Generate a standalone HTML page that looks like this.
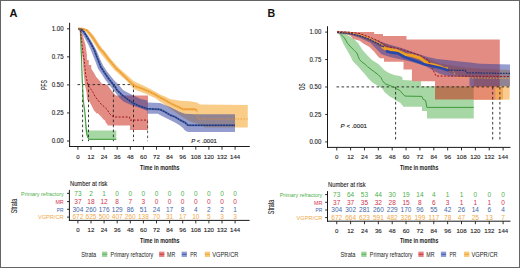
<!DOCTYPE html>
<html><head><meta charset="utf-8"><style>
html,body{margin:0;padding:0;background:#fff;}
svg{display:block;}
text{font-family:"Liberation Sans", sans-serif;}
</style></head><body>
<svg width="520" height="268" viewBox="0 0 520 268" font-family='"Liberation Sans", sans-serif'>
<rect x="0" y="0" width="520" height="268" fill="#fff"/>
<polygon points="79.50,29.00 80.80,40.00 81.60,60.00 82.30,80.00 83.30,100.00 85.00,115.00 86.30,125.00 87.50,130.50 116.30,130.50 116.30,139.90 88.50,139.90 86.50,136.00 85.30,130.00 84.30,115.00 82.60,100.00 81.60,80.00 81.00,60.00 80.20,40.00 79.50,29.00" fill="#4DAF4A" fill-opacity="0.5" />
<polygon points="79.50,29.00 81.00,30.00 83.00,36.00 85.50,45.00 86.90,55.00 86.90,60.00 88.75,60.00 88.75,65.00 91.25,65.00 91.25,68.75 93.75,72.50 96.25,76.90 99.40,80.60 101.90,83.75 105.60,84.20 107.50,85.00 110.00,88.50 113.00,92.50 116.00,95.50 148.00,95.50 148.00,129.90 130.00,129.90 130.00,125.50 107.50,125.50 107.50,124.25 106.00,123.00 105.00,120.50 103.00,119.00 101.25,116.75 99.50,115.00 97.50,113.00 96.90,113.75 93.75,110.00 91.90,106.25 89.40,101.50 87.20,100.00 86.50,92.00 85.00,85.00 83.80,75.00 82.80,60.00 82.30,55.00 81.50,45.00 80.30,35.00 79.50,29.00" fill="#C71A08" fill-opacity="0.5" />
<polygon points="78.50,28.30 83.00,28.40 87.50,29.50 91.00,32.50 94.00,36.00 96.50,40.00 99.00,44.00 101.50,47.50 104.50,51.00 108.50,56.00 112.50,61.00 116.50,65.50 120.00,69.00 127.50,75.50 133.00,80.50 135.00,81.80 145.00,86.30 155.00,91.60 160.00,94.50 165.00,96.50 170.00,99.00 180.00,100.70 190.00,101.20 197.00,102.50 200.00,104.60 247.75,104.90 247.75,127.40 205.00,127.40 198.00,124.00 190.00,121.50 185.00,118.50 180.00,115.50 175.00,112.00 170.00,108.50 165.00,105.00 160.00,101.50 155.00,97.90 145.00,93.40 135.00,89.80 133.00,88.30 127.50,81.50 120.00,75.00 115.00,70.50 111.00,66.00 106.00,60.00 101.50,54.50 98.50,50.50 96.00,46.50 93.50,42.50 91.00,38.50 88.50,35.00 85.50,31.50 82.00,29.80 78.50,29.30" fill="#F39C12" fill-opacity="0.5" />
<polygon points="78.50,28.30 82.00,29.00 85.00,31.50 88.00,35.50 91.00,40.50 93.50,45.00 96.00,49.50 98.00,54.00 100.00,59.00 103.40,66.00 107.00,71.40 110.50,75.80 114.10,80.30 118.60,84.80 123.00,90.00 127.50,92.50 135.00,96.25 140.00,98.75 147.50,100.50 147.50,102.50 160.00,103.10 165.00,105.00 170.00,106.90 175.00,109.40 180.00,111.90 185.00,113.75 195.00,114.30 235.00,114.30 235.00,132.00 188.00,132.00 185.00,130.60 183.00,128.10 180.00,125.60 175.00,122.50 170.00,120.00 165.00,117.50 160.00,115.00 158.00,113.75 147.50,113.75 147.50,111.00 140.00,108.00 130.00,104.50 123.30,101.50 119.70,97.90 116.10,93.40 112.50,89.00 109.00,84.50 105.40,80.00 101.60,74.00 98.00,68.70 95.00,60.50 93.00,55.50 91.00,50.50 88.50,45.00 86.00,40.50 83.50,36.00 81.00,32.00 78.50,29.50" fill="#2A3C9C" fill-opacity="0.5" />
<line x1="77.50" y1="84.60" x2="133.50" y2="84.60" stroke="#222" stroke-width="0.9" stroke-dasharray="2.6,2.4" />
<line x1="82.60" y1="84.60" x2="82.60" y2="141.20" stroke="#222" stroke-width="0.9" stroke-dasharray="2.6,2.4" />
<line x1="88.50" y1="84.60" x2="88.50" y2="141.20" stroke="#222" stroke-width="0.9" stroke-dasharray="2.6,2.4" />
<line x1="113.40" y1="84.60" x2="113.40" y2="141.20" stroke="#222" stroke-width="0.9" stroke-dasharray="2.6,2.4" />
<line x1="133.50" y1="84.60" x2="133.50" y2="141.20" stroke="#222" stroke-width="0.9" stroke-dasharray="2.6,2.4" />
<line x1="147.60" y1="120.60" x2="147.60" y2="141.20" stroke="#444" stroke-width="0.9" stroke-dasharray="2.6,2.4" />
<polyline points="78.10,28.75 80.30,29.00 80.80,40.00 81.60,60.00 82.30,80.00 83.30,100.00 85.00,113.00 86.20,128.00 86.80,134.00 88.00,138.00 89.50,139.30 116.30,139.30" fill="none" stroke="#3E9A3B" stroke-width="1.0" stroke-opacity="1.0" stroke-linejoin="round" />
<polyline points="78.10,28.75 80.50,29.50 81.20,37.50 82.20,46.25 83.20,55.00 84.20,60.00 85.70,75.00 88.00,85.00 91.30,89.80 93.10,92.50 94.80,96.10 97.10,99.20 99.30,101.90 101.60,104.60 104.20,106.80 107.20,109.40 109.00,113.00 111.60,115.60 114.30,117.00 129.50,117.00 130.00,120.10 148.00,120.10" fill="none" stroke="#A3141E" stroke-width="1.0" stroke-opacity="1.0" stroke-dasharray="2,1.5" stroke-linejoin="round" />
<polyline points="78.10,28.75 81.00,29.60 83.60,31.40 86.30,35.80 89.00,40.30 91.60,44.80 93.40,48.40 94.50,50.40 96.70,56.60 98.90,62.00 100.70,66.90 104.30,72.30 107.80,77.60 111.40,82.10 115.00,86.60 117.00,90.00 122.00,95.00 127.00,98.75 132.00,102.50 137.00,105.00 140.00,106.25 147.50,108.75 160.00,109.40 165.00,111.90 170.00,115.00 175.00,116.90 180.00,120.00 185.00,122.50 188.00,125.30 235.00,125.30" fill="none" stroke="#3A58A8" stroke-width="2.0" stroke-opacity="0.75" stroke-linejoin="round" />
<polyline points="78.10,28.75 81.00,29.60 83.60,31.40 86.30,35.80 89.00,40.30 91.60,44.80 93.40,48.40 94.50,50.40 96.70,56.60 98.90,62.00 100.70,66.90 104.30,72.30 107.80,77.60 111.40,82.10 115.00,86.60 117.00,90.00 122.00,95.00 127.00,98.75 132.00,102.50 137.00,105.00 140.00,106.25 147.50,108.75 160.00,109.40 165.00,111.90 170.00,115.00 175.00,116.90 180.00,120.00 185.00,122.50 188.00,125.30 235.00,125.30" fill="none" stroke="#1E3370" stroke-width="1.3" stroke-opacity="1.0" stroke-dasharray="1.8,1.0" stroke-linejoin="round" />
<polyline points="78.10,28.75 82.70,28.90 87.20,30.50 90.70,35.00 93.40,38.50 95.70,42.10 97.90,45.50 100.10,49.00 103.40,52.20 107.90,58.40 112.40,63.80 116.00,68.30 119.50,71.40 124.00,75.80 128.40,80.30 132.90,84.60 136.00,86.50 140.00,87.80 145.00,89.80 150.00,92.00 155.00,94.50 160.00,97.50 165.00,100.00 170.00,103.00 175.00,105.50 180.00,107.70 183.00,109.20 195.00,109.20 197.00,110.60" fill="none" stroke="#F2AA48" stroke-width="2.4" stroke-opacity="0.85" stroke-linejoin="round" />
<polyline points="78.10,28.75 82.70,28.90 87.20,30.50 90.70,35.00 93.40,38.50 95.70,42.10 97.90,45.50 100.10,49.00 103.40,52.20 107.90,58.40 112.40,63.80 116.00,68.30 119.50,71.40 124.00,75.80 128.40,80.30 132.90,84.60 136.00,86.50 140.00,87.80 145.00,89.80 150.00,92.00 155.00,94.50 160.00,97.50 165.00,100.00 170.00,103.00 175.00,105.50 180.00,107.70 183.00,109.20 195.00,109.20 197.00,110.60" fill="none" stroke="#E8921E" stroke-width="1.0" stroke-opacity="1.0" stroke-dasharray="1.5,1.2" stroke-linejoin="round" />
<polyline points="197.00,110.60 198.00,119.00 247.75,119.00" fill="none" stroke="#E8902A" stroke-width="0.9" stroke-opacity="0.85" stroke-dasharray="1.6,1.4" stroke-linejoin="round" />
<polyline points="78.20,28.90 81.00,29.10 83.20,29.90" fill="none" stroke="#4A3850" stroke-width="1.4" stroke-opacity="0.85" stroke-linejoin="round" />
<line x1="69.60" y1="22.75" x2="69.60" y2="147.00" stroke="#1a1a1a" stroke-width="1.0" />
<line x1="69.10" y1="146.50" x2="249.80" y2="146.50" stroke="#1a1a1a" stroke-width="1.0" />
<line x1="67.00" y1="28.80" x2="69.60" y2="28.80" stroke="#1a1a1a" stroke-width="0.9" />
<text x="63.60" y="31.06" font-size="6.3" fill="#262626" text-anchor="end" textLength="11.9" lengthAdjust="spacingAndGlyphs" stroke="#262626" stroke-width="0.12" >1.00</text>
<line x1="67.00" y1="56.85" x2="69.60" y2="56.85" stroke="#1a1a1a" stroke-width="0.9" />
<text x="63.60" y="59.11" font-size="6.3" fill="#262626" text-anchor="end" textLength="11.9" lengthAdjust="spacingAndGlyphs" stroke="#262626" stroke-width="0.12" >0.75</text>
<line x1="67.00" y1="84.90" x2="69.60" y2="84.90" stroke="#1a1a1a" stroke-width="0.9" />
<text x="63.60" y="87.16" font-size="6.3" fill="#262626" text-anchor="end" textLength="11.9" lengthAdjust="spacingAndGlyphs" stroke="#262626" stroke-width="0.12" >0.50</text>
<line x1="67.00" y1="112.95" x2="69.60" y2="112.95" stroke="#1a1a1a" stroke-width="0.9" />
<text x="63.60" y="115.21" font-size="6.3" fill="#262626" text-anchor="end" textLength="11.9" lengthAdjust="spacingAndGlyphs" stroke="#262626" stroke-width="0.12" >0.25</text>
<line x1="67.00" y1="141.00" x2="69.60" y2="141.00" stroke="#1a1a1a" stroke-width="0.9" />
<text x="63.60" y="143.26" font-size="6.3" fill="#262626" text-anchor="end" textLength="11.9" lengthAdjust="spacingAndGlyphs" stroke="#262626" stroke-width="0.12" >0.00</text>
<line x1="77.90" y1="146.50" x2="77.90" y2="149.70" stroke="#1a1a1a" stroke-width="0.9" />
<text x="77.90" y="158.63" font-size="6.1" fill="#262626" text-anchor="middle" stroke="#262626" stroke-width="0.12" >0</text>
<line x1="91.00" y1="146.50" x2="91.00" y2="149.70" stroke="#1a1a1a" stroke-width="0.9" />
<text x="91.00" y="158.63" font-size="6.1" fill="#262626" text-anchor="middle" stroke="#262626" stroke-width="0.12" >12</text>
<line x1="104.10" y1="146.50" x2="104.10" y2="149.70" stroke="#1a1a1a" stroke-width="0.9" />
<text x="104.10" y="158.63" font-size="6.1" fill="#262626" text-anchor="middle" stroke="#262626" stroke-width="0.12" >24</text>
<line x1="117.20" y1="146.50" x2="117.20" y2="149.70" stroke="#1a1a1a" stroke-width="0.9" />
<text x="117.20" y="158.63" font-size="6.1" fill="#262626" text-anchor="middle" stroke="#262626" stroke-width="0.12" >36</text>
<line x1="130.30" y1="146.50" x2="130.30" y2="149.70" stroke="#1a1a1a" stroke-width="0.9" />
<text x="130.30" y="158.63" font-size="6.1" fill="#262626" text-anchor="middle" stroke="#262626" stroke-width="0.12" >48</text>
<line x1="143.40" y1="146.50" x2="143.40" y2="149.70" stroke="#1a1a1a" stroke-width="0.9" />
<text x="143.40" y="158.63" font-size="6.1" fill="#262626" text-anchor="middle" stroke="#262626" stroke-width="0.12" >60</text>
<line x1="156.50" y1="146.50" x2="156.50" y2="149.70" stroke="#1a1a1a" stroke-width="0.9" />
<text x="156.50" y="158.63" font-size="6.1" fill="#262626" text-anchor="middle" stroke="#262626" stroke-width="0.12" >72</text>
<line x1="169.60" y1="146.50" x2="169.60" y2="149.70" stroke="#1a1a1a" stroke-width="0.9" />
<text x="169.60" y="158.63" font-size="6.1" fill="#262626" text-anchor="middle" stroke="#262626" stroke-width="0.12" >84</text>
<line x1="182.70" y1="146.50" x2="182.70" y2="149.70" stroke="#1a1a1a" stroke-width="0.9" />
<text x="182.70" y="158.63" font-size="6.1" fill="#262626" text-anchor="middle" stroke="#262626" stroke-width="0.12" >96</text>
<line x1="195.80" y1="146.50" x2="195.80" y2="149.70" stroke="#1a1a1a" stroke-width="0.9" />
<text x="195.80" y="158.63" font-size="6.1" fill="#262626" text-anchor="middle" stroke="#262626" stroke-width="0.12" >108</text>
<line x1="208.90" y1="146.50" x2="208.90" y2="149.70" stroke="#1a1a1a" stroke-width="0.9" />
<text x="208.90" y="158.63" font-size="6.1" fill="#262626" text-anchor="middle" stroke="#262626" stroke-width="0.12" >120</text>
<line x1="222.00" y1="146.50" x2="222.00" y2="149.70" stroke="#1a1a1a" stroke-width="0.9" />
<text x="222.00" y="158.63" font-size="6.1" fill="#262626" text-anchor="middle" stroke="#262626" stroke-width="0.12" >132</text>
<line x1="235.10" y1="146.50" x2="235.10" y2="149.70" stroke="#1a1a1a" stroke-width="0.9" />
<text x="235.10" y="158.63" font-size="6.1" fill="#262626" text-anchor="middle" stroke="#262626" stroke-width="0.12" >144</text>
<text font-size="9.8" fill="#222" text-anchor="middle" font-weight="normal" stroke="#222" stroke-width="0.1" textLength="10.0" lengthAdjust="spacingAndGlyphs" transform="translate(47.11,85.10) rotate(-90)" x="0" y="0">PFS</text>
<text x="159.80" y="169.72" font-size="7.6" fill="#1a1a1a" text-anchor="middle" font-weight="bold" textLength="39.5" lengthAdjust="spacingAndGlyphs" >Time in months</text>
<text x="191.25" y="143.00" font-size="5.6" fill="#1a1a1a" stroke="#1a1a1a" stroke-width="0.12" textLength="25.5" lengthAdjust="spacingAndGlyphs"><tspan font-style="italic">P</tspan> &lt; .0001</text>
<text x="9.60" y="16.94" font-size="11.0" fill="#111" text-anchor="start" font-weight="bold" >A</text>
<polygon points="337.50,31.80 340.00,32.60 345.00,33.80 350.00,36.50 355.00,40.00 358.00,43.00 362.50,50.00 367.00,55.00 372.00,60.00 378.30,64.00 381.80,67.60 384.50,70.30 389.00,73.00 395.00,75.20 400.00,76.00 402.50,77.50 402.50,80.00 411.90,80.50 411.90,81.20 421.00,81.20 421.00,86.20 473.75,86.50 473.75,118.60 427.00,118.60 427.00,111.10 422.00,111.10 422.00,106.75 403.50,106.75 400.00,102.50 396.00,100.50 393.75,98.75 389.40,96.25 384.40,91.90 382.50,88.75 372.50,82.50 367.50,77.50 364.80,73.90 361.30,70.30 357.70,66.00 355.00,63.50 352.50,60.40 349.80,55.00 347.20,50.50 343.60,44.30 340.50,37.00 339.00,34.00 337.50,32.50" fill="#4DAF4A" fill-opacity="0.5" />
<polygon points="337.50,31.50 360.00,33.50 380.00,41.50 400.00,49.00 420.00,55.50 440.00,63.50 455.00,66.00 470.00,68.00 510.00,70.00 509.40,99.50 473.75,99.50 473.75,77.00 470.00,77.00 460.00,75.50 450.00,73.00 440.00,69.00 420.00,60.50 400.00,54.00 380.00,46.50 360.00,36.00 337.50,32.50" fill="#F39C12" fill-opacity="0.5" />
<polygon points="337.50,32.00 374.20,32.00 374.20,34.10 383.00,34.10 383.00,36.10 406.50,36.10 406.50,39.50 499.80,39.50 499.80,99.50 435.00,99.50 435.00,81.20 411.90,81.20 411.90,69.60 403.50,69.60 403.50,61.70 384.00,61.70 384.00,58.30 380.00,58.30 377.60,55.90 374.00,51.40 369.50,46.90 363.30,43.40 359.70,40.70 353.40,39.00 350.00,35.50 345.00,33.50 337.50,32.50" fill="#C71A08" fill-opacity="0.5" />
<polygon points="337.50,31.50 350.00,32.00 360.00,33.50 370.00,37.90 380.00,41.50 389.00,44.60 400.00,47.50 408.50,50.40 420.00,54.50 427.70,57.10 437.00,59.00 447.00,60.00 460.00,61.50 470.00,62.50 480.00,63.80 510.00,64.40 510.00,86.30 469.50,86.30 469.50,77.20 460.00,76.80 450.00,76.30 440.00,74.00 431.50,69.60 425.00,66.00 418.00,63.80 410.00,61.50 398.80,59.00 390.00,57.00 381.50,54.20 370.00,42.50 360.00,38.00 350.00,34.50 337.50,32.50" fill="#2A3C9C" fill-opacity="0.5" />
<rect x="473.75" y="86.9" width="21.5" height="12.6" fill="#E68C70"/>
<rect x="495.2" y="86.9" width="7.8" height="12.6" fill="#F4A85A"/>
<rect x="503" y="86.9" width="6.4" height="12.6" fill="#F9CB8E"/>
<line x1="336.50" y1="86.90" x2="510.00" y2="86.90" stroke="#222" stroke-width="0.9" stroke-dasharray="2.6,2.4" />
<line x1="395.60" y1="86.90" x2="395.60" y2="141.50" stroke="#222" stroke-width="0.9" stroke-dasharray="2.6,2.4" />
<line x1="492.70" y1="86.90" x2="492.70" y2="141.50" stroke="#222" stroke-width="0.9" stroke-dasharray="2.6,2.4" />
<line x1="499.90" y1="86.90" x2="499.90" y2="141.50" stroke="#222" stroke-width="0.9" stroke-dasharray="2.6,2.4" />
<polyline points="337.20,32.00 339.00,32.30 341.00,34.50 344.50,38.00 347.60,43.40 350.70,46.90 354.30,50.50 357.00,53.20 358.30,56.80 359.50,59.60 362.20,62.30 364.80,64.00 367.50,66.70 371.10,69.40 374.70,72.10 378.30,74.80 381.00,77.50 382.50,80.60 385.00,83.75 390.00,85.60 395.00,87.50 396.25,88.75 400.00,90.50 403.00,94.25 405.00,96.10 421.90,96.40 423.10,99.25 425.60,100.50 426.90,107.40 473.75,107.40" fill="none" stroke="#3E9A3B" stroke-width="1.0" stroke-opacity="1.0" stroke-linejoin="round" />
<polyline points="337.20,32.20 350.00,33.20 360.00,35.60 370.00,39.60 378.00,43.60 385.00,47.60" fill="none" stroke="#7A5070" stroke-width="3.0" stroke-opacity="0.55" stroke-linejoin="round" />
<polyline points="337.20,32.00 350.00,32.60 360.00,34.60 370.00,38.60 378.00,42.50 383.00,45.50" fill="none" stroke="#E8A040" stroke-width="1.2" stroke-opacity="1.0" stroke-linejoin="round" />
<polyline points="382.00,46.50 385.00,48.50 390.00,49.40 396.00,50.30 400.00,52.20 406.00,54.80 412.00,55.50 420.00,58.00 425.00,61.60 430.00,64.30 435.00,65.20 440.00,66.60 444.00,68.60 448.00,68.80" fill="none" stroke="#F0A020" stroke-width="3.0" stroke-opacity="1.0" stroke-linejoin="round" />
<polyline points="453.00,70.00 456.00,77.50 510.00,78.50" fill="none" stroke="#F0A030" stroke-width="1.2" stroke-opacity="0.8" stroke-dasharray="1.5,1.5" stroke-linejoin="round" />
<polyline points="337.20,32.30 350.00,33.40 360.00,35.80 370.00,39.60 378.00,43.60 384.00,47.00" fill="none" stroke="#1E3370" stroke-width="1.2" stroke-opacity="1.0" stroke-dasharray="1.8,1.0" stroke-linejoin="round" />
<polyline points="386.00,51.00 390.00,52.30 398.00,53.40 404.50,57.00 412.00,59.80 420.00,62.50 425.00,64.60 432.00,66.00 440.00,67.80 448.00,70.20" fill="none" stroke="#2748A8" stroke-width="2.6" stroke-opacity="1.0" stroke-linejoin="round" />
<polyline points="448.00,70.20 465.00,70.40 467.00,72.80 510.00,73.50" fill="none" stroke="#1E3370" stroke-width="1.3" stroke-opacity="1.0" stroke-dasharray="1.8,1.0" stroke-linejoin="round" />
<polyline points="337.20,31.80 350.00,32.30 360.00,33.60 370.00,37.30 380.00,41.50 385.00,45.50 390.00,47.20 400.00,48.70 410.00,52.00 420.00,55.30 428.00,60.00 432.00,68.00 436.00,76.00 510.00,76.50" fill="none" stroke="#A3141E" stroke-width="1.0" stroke-opacity="1.0" stroke-dasharray="2,1.5" stroke-linejoin="round" />
<line x1="327.50" y1="26.25" x2="327.50" y2="147.90" stroke="#1a1a1a" stroke-width="1.0" />
<line x1="327.00" y1="147.40" x2="510.50" y2="147.40" stroke="#1a1a1a" stroke-width="1.0" />
<line x1="325.20" y1="32.10" x2="327.50" y2="32.10" stroke="#1a1a1a" stroke-width="0.9" />
<text x="321.30" y="34.36" font-size="6.3" fill="#262626" text-anchor="end" textLength="11.8" lengthAdjust="spacingAndGlyphs" stroke="#262626" stroke-width="0.12" >1.00</text>
<line x1="325.20" y1="59.55" x2="327.50" y2="59.55" stroke="#1a1a1a" stroke-width="0.9" />
<text x="321.30" y="61.81" font-size="6.3" fill="#262626" text-anchor="end" textLength="11.8" lengthAdjust="spacingAndGlyphs" stroke="#262626" stroke-width="0.12" >0.75</text>
<line x1="325.20" y1="87.00" x2="327.50" y2="87.00" stroke="#1a1a1a" stroke-width="0.9" />
<text x="321.30" y="89.26" font-size="6.3" fill="#262626" text-anchor="end" textLength="11.8" lengthAdjust="spacingAndGlyphs" stroke="#262626" stroke-width="0.12" >0.50</text>
<line x1="325.20" y1="114.45" x2="327.50" y2="114.45" stroke="#1a1a1a" stroke-width="0.9" />
<text x="321.30" y="116.71" font-size="6.3" fill="#262626" text-anchor="end" textLength="11.8" lengthAdjust="spacingAndGlyphs" stroke="#262626" stroke-width="0.12" >0.25</text>
<line x1="325.20" y1="141.90" x2="327.50" y2="141.90" stroke="#1a1a1a" stroke-width="0.9" />
<text x="321.30" y="144.16" font-size="6.3" fill="#262626" text-anchor="end" textLength="11.8" lengthAdjust="spacingAndGlyphs" stroke="#262626" stroke-width="0.12" >0.00</text>
<line x1="336.75" y1="147.40" x2="336.75" y2="150.40" stroke="#1a1a1a" stroke-width="0.9" />
<text x="336.75" y="158.78" font-size="6.1" fill="#262626" text-anchor="middle" stroke="#262626" stroke-width="0.12" >0</text>
<line x1="350.61" y1="147.40" x2="350.61" y2="150.40" stroke="#1a1a1a" stroke-width="0.9" />
<text x="350.61" y="158.78" font-size="6.1" fill="#262626" text-anchor="middle" stroke="#262626" stroke-width="0.12" >12</text>
<line x1="364.47" y1="147.40" x2="364.47" y2="150.40" stroke="#1a1a1a" stroke-width="0.9" />
<text x="364.47" y="158.78" font-size="6.1" fill="#262626" text-anchor="middle" stroke="#262626" stroke-width="0.12" >24</text>
<line x1="378.34" y1="147.40" x2="378.34" y2="150.40" stroke="#1a1a1a" stroke-width="0.9" />
<text x="378.34" y="158.78" font-size="6.1" fill="#262626" text-anchor="middle" stroke="#262626" stroke-width="0.12" >36</text>
<line x1="392.20" y1="147.40" x2="392.20" y2="150.40" stroke="#1a1a1a" stroke-width="0.9" />
<text x="392.20" y="158.78" font-size="6.1" fill="#262626" text-anchor="middle" stroke="#262626" stroke-width="0.12" >48</text>
<line x1="406.06" y1="147.40" x2="406.06" y2="150.40" stroke="#1a1a1a" stroke-width="0.9" />
<text x="406.06" y="158.78" font-size="6.1" fill="#262626" text-anchor="middle" stroke="#262626" stroke-width="0.12" >60</text>
<line x1="419.92" y1="147.40" x2="419.92" y2="150.40" stroke="#1a1a1a" stroke-width="0.9" />
<text x="419.92" y="158.78" font-size="6.1" fill="#262626" text-anchor="middle" stroke="#262626" stroke-width="0.12" >72</text>
<line x1="433.79" y1="147.40" x2="433.79" y2="150.40" stroke="#1a1a1a" stroke-width="0.9" />
<text x="433.79" y="158.78" font-size="6.1" fill="#262626" text-anchor="middle" stroke="#262626" stroke-width="0.12" >84</text>
<line x1="447.65" y1="147.40" x2="447.65" y2="150.40" stroke="#1a1a1a" stroke-width="0.9" />
<text x="447.65" y="158.78" font-size="6.1" fill="#262626" text-anchor="middle" stroke="#262626" stroke-width="0.12" >96</text>
<line x1="461.51" y1="147.40" x2="461.51" y2="150.40" stroke="#1a1a1a" stroke-width="0.9" />
<text x="461.51" y="158.78" font-size="6.1" fill="#262626" text-anchor="middle" stroke="#262626" stroke-width="0.12" >108</text>
<line x1="475.37" y1="147.40" x2="475.37" y2="150.40" stroke="#1a1a1a" stroke-width="0.9" />
<text x="475.37" y="158.78" font-size="6.1" fill="#262626" text-anchor="middle" stroke="#262626" stroke-width="0.12" >120</text>
<line x1="489.24" y1="147.40" x2="489.24" y2="150.40" stroke="#1a1a1a" stroke-width="0.9" />
<text x="489.24" y="158.78" font-size="6.1" fill="#262626" text-anchor="middle" stroke="#262626" stroke-width="0.12" >132</text>
<line x1="503.10" y1="147.40" x2="503.10" y2="150.40" stroke="#1a1a1a" stroke-width="0.9" />
<text x="503.10" y="158.78" font-size="6.1" fill="#262626" text-anchor="middle" stroke="#262626" stroke-width="0.12" >144</text>
<text font-size="9.2" fill="#222" text-anchor="middle" font-weight="normal" stroke="#222" stroke-width="0.1" textLength="6.7" lengthAdjust="spacingAndGlyphs" transform="translate(304.69,86.80) rotate(-90)" x="0" y="0">OS</text>
<text x="419.20" y="170.22" font-size="7.6" fill="#1a1a1a" text-anchor="middle" font-weight="bold" textLength="38.5" lengthAdjust="spacingAndGlyphs" >Time in months</text>
<text x="340.6" y="128.00" font-size="5.6" fill="#1a1a1a" stroke="#1a1a1a" stroke-width="0.12" textLength="26.4" lengthAdjust="spacingAndGlyphs"><tspan font-style="italic">P</tspan> &lt; .0001</text>
<text x="267.60" y="16.89" font-size="10.6" fill="#111" text-anchor="start" font-weight="bold" >B</text>
<text x="70.00" y="185.66" font-size="6.6" fill="#1a1a1a" text-anchor="start" textLength="37.5" lengthAdjust="spacingAndGlyphs" stroke="#1a1a1a" stroke-width="0.1" >Number at risk</text>
<text x="63.60" y="195.57" font-size="6.2" fill="#4DAF4A" text-anchor="end" textLength="42.5" lengthAdjust="spacingAndGlyphs" >Primary refractory</text>
<line x1="67.00" y1="193.35" x2="69.40" y2="193.35" stroke="#1a1a1a" stroke-width="0.9" />
<text x="77.90" y="195.64" font-size="6.4" fill="#4DAF4A" text-anchor="middle" textLength="7.24" lengthAdjust="spacingAndGlyphs" >73</text>
<text x="91.00" y="195.64" font-size="6.4" fill="#4DAF4A" text-anchor="middle" textLength="3.62" lengthAdjust="spacingAndGlyphs" >2</text>
<text x="104.10" y="195.64" font-size="6.4" fill="#4DAF4A" text-anchor="middle" textLength="3.62" lengthAdjust="spacingAndGlyphs" >1</text>
<text x="117.20" y="195.64" font-size="6.4" fill="#4DAF4A" text-anchor="middle" textLength="3.62" lengthAdjust="spacingAndGlyphs" >0</text>
<text x="130.30" y="195.64" font-size="6.4" fill="#4DAF4A" text-anchor="middle" textLength="3.62" lengthAdjust="spacingAndGlyphs" >0</text>
<text x="143.40" y="195.64" font-size="6.4" fill="#4DAF4A" text-anchor="middle" textLength="3.62" lengthAdjust="spacingAndGlyphs" >0</text>
<text x="156.50" y="195.64" font-size="6.4" fill="#4DAF4A" text-anchor="middle" textLength="3.62" lengthAdjust="spacingAndGlyphs" >0</text>
<text x="169.60" y="195.64" font-size="6.4" fill="#4DAF4A" text-anchor="middle" textLength="3.62" lengthAdjust="spacingAndGlyphs" >0</text>
<text x="182.70" y="195.64" font-size="6.4" fill="#4DAF4A" text-anchor="middle" textLength="3.62" lengthAdjust="spacingAndGlyphs" >0</text>
<text x="195.80" y="195.64" font-size="6.4" fill="#4DAF4A" text-anchor="middle" textLength="3.62" lengthAdjust="spacingAndGlyphs" >0</text>
<text x="208.90" y="195.64" font-size="6.4" fill="#4DAF4A" text-anchor="middle" textLength="3.62" lengthAdjust="spacingAndGlyphs" >0</text>
<text x="222.00" y="195.64" font-size="6.4" fill="#4DAF4A" text-anchor="middle" textLength="3.62" lengthAdjust="spacingAndGlyphs" >0</text>
<text x="235.10" y="195.64" font-size="6.4" fill="#4DAF4A" text-anchor="middle" textLength="3.62" lengthAdjust="spacingAndGlyphs" >0</text>
<text x="63.60" y="203.82" font-size="6.2" fill="#D2344E" text-anchor="end" textLength="8.2" lengthAdjust="spacingAndGlyphs" >MR</text>
<line x1="67.00" y1="201.60" x2="69.40" y2="201.60" stroke="#1a1a1a" stroke-width="0.9" />
<text x="77.90" y="203.89" font-size="6.4" fill="#D2344E" text-anchor="middle" textLength="7.24" lengthAdjust="spacingAndGlyphs" >37</text>
<text x="91.00" y="203.89" font-size="6.4" fill="#D2344E" text-anchor="middle" textLength="7.24" lengthAdjust="spacingAndGlyphs" >18</text>
<text x="104.10" y="203.89" font-size="6.4" fill="#D2344E" text-anchor="middle" textLength="7.24" lengthAdjust="spacingAndGlyphs" >12</text>
<text x="117.20" y="203.89" font-size="6.4" fill="#D2344E" text-anchor="middle" textLength="3.62" lengthAdjust="spacingAndGlyphs" >8</text>
<text x="130.30" y="203.89" font-size="6.4" fill="#D2344E" text-anchor="middle" textLength="3.62" lengthAdjust="spacingAndGlyphs" >7</text>
<text x="143.40" y="203.89" font-size="6.4" fill="#D2344E" text-anchor="middle" textLength="3.62" lengthAdjust="spacingAndGlyphs" >3</text>
<text x="156.50" y="203.89" font-size="6.4" fill="#D2344E" text-anchor="middle" textLength="3.62" lengthAdjust="spacingAndGlyphs" >0</text>
<text x="169.60" y="203.89" font-size="6.4" fill="#D2344E" text-anchor="middle" textLength="3.62" lengthAdjust="spacingAndGlyphs" >0</text>
<text x="182.70" y="203.89" font-size="6.4" fill="#D2344E" text-anchor="middle" textLength="3.62" lengthAdjust="spacingAndGlyphs" >0</text>
<text x="195.80" y="203.89" font-size="6.4" fill="#D2344E" text-anchor="middle" textLength="3.62" lengthAdjust="spacingAndGlyphs" >0</text>
<text x="208.90" y="203.89" font-size="6.4" fill="#D2344E" text-anchor="middle" textLength="3.62" lengthAdjust="spacingAndGlyphs" >0</text>
<text x="222.00" y="203.89" font-size="6.4" fill="#D2344E" text-anchor="middle" textLength="3.62" lengthAdjust="spacingAndGlyphs" >0</text>
<text x="235.10" y="203.89" font-size="6.4" fill="#D2344E" text-anchor="middle" textLength="3.62" lengthAdjust="spacingAndGlyphs" >0</text>
<text x="63.60" y="211.52" font-size="6.2" fill="#3F66A8" text-anchor="end" textLength="6.8" lengthAdjust="spacingAndGlyphs" >PR</text>
<line x1="67.00" y1="209.30" x2="69.40" y2="209.30" stroke="#1a1a1a" stroke-width="0.9" />
<text x="77.90" y="211.59" font-size="6.4" fill="#3F66A8" text-anchor="middle" textLength="10.86" lengthAdjust="spacingAndGlyphs" >304</text>
<text x="91.00" y="211.59" font-size="6.4" fill="#3F66A8" text-anchor="middle" textLength="10.86" lengthAdjust="spacingAndGlyphs" >260</text>
<text x="104.10" y="211.59" font-size="6.4" fill="#3F66A8" text-anchor="middle" textLength="10.86" lengthAdjust="spacingAndGlyphs" >176</text>
<text x="117.20" y="211.59" font-size="6.4" fill="#3F66A8" text-anchor="middle" textLength="10.86" lengthAdjust="spacingAndGlyphs" >129</text>
<text x="130.30" y="211.59" font-size="6.4" fill="#3F66A8" text-anchor="middle" textLength="7.24" lengthAdjust="spacingAndGlyphs" >86</text>
<text x="143.40" y="211.59" font-size="6.4" fill="#3F66A8" text-anchor="middle" textLength="7.24" lengthAdjust="spacingAndGlyphs" >51</text>
<text x="156.50" y="211.59" font-size="6.4" fill="#3F66A8" text-anchor="middle" textLength="7.24" lengthAdjust="spacingAndGlyphs" >24</text>
<text x="169.60" y="211.59" font-size="6.4" fill="#3F66A8" text-anchor="middle" textLength="7.24" lengthAdjust="spacingAndGlyphs" >17</text>
<text x="182.70" y="211.59" font-size="6.4" fill="#3F66A8" text-anchor="middle" textLength="3.62" lengthAdjust="spacingAndGlyphs" >8</text>
<text x="195.80" y="211.59" font-size="6.4" fill="#3F66A8" text-anchor="middle" textLength="3.62" lengthAdjust="spacingAndGlyphs" >4</text>
<text x="208.90" y="211.59" font-size="6.4" fill="#3F66A8" text-anchor="middle" textLength="3.62" lengthAdjust="spacingAndGlyphs" >2</text>
<text x="222.00" y="211.59" font-size="6.4" fill="#3F66A8" text-anchor="middle" textLength="3.62" lengthAdjust="spacingAndGlyphs" >2</text>
<text x="235.10" y="211.59" font-size="6.4" fill="#3F66A8" text-anchor="middle" textLength="3.62" lengthAdjust="spacingAndGlyphs" >1</text>
<text x="63.60" y="219.32" font-size="6.2" fill="#F0A848" text-anchor="end" textLength="25.7" lengthAdjust="spacingAndGlyphs" >VGPR/CR</text>
<line x1="67.00" y1="217.10" x2="69.40" y2="217.10" stroke="#1a1a1a" stroke-width="0.9" />
<text x="77.90" y="219.39" font-size="6.4" fill="#F0A848" text-anchor="middle" textLength="10.86" lengthAdjust="spacingAndGlyphs" >672</text>
<text x="91.00" y="219.39" font-size="6.4" fill="#F0A848" text-anchor="middle" textLength="10.86" lengthAdjust="spacingAndGlyphs" >625</text>
<text x="104.10" y="219.39" font-size="6.4" fill="#F0A848" text-anchor="middle" textLength="10.86" lengthAdjust="spacingAndGlyphs" >500</text>
<text x="117.20" y="219.39" font-size="6.4" fill="#F0A848" text-anchor="middle" textLength="10.86" lengthAdjust="spacingAndGlyphs" >407</text>
<text x="130.30" y="219.39" font-size="6.4" fill="#F0A848" text-anchor="middle" textLength="10.86" lengthAdjust="spacingAndGlyphs" >260</text>
<text x="143.40" y="219.39" font-size="6.4" fill="#F0A848" text-anchor="middle" textLength="10.86" lengthAdjust="spacingAndGlyphs" >138</text>
<text x="156.50" y="219.39" font-size="6.4" fill="#F0A848" text-anchor="middle" textLength="7.24" lengthAdjust="spacingAndGlyphs" >70</text>
<text x="169.60" y="219.39" font-size="6.4" fill="#F0A848" text-anchor="middle" textLength="7.24" lengthAdjust="spacingAndGlyphs" >31</text>
<text x="182.70" y="219.39" font-size="6.4" fill="#F0A848" text-anchor="middle" textLength="7.24" lengthAdjust="spacingAndGlyphs" >17</text>
<text x="195.80" y="219.39" font-size="6.4" fill="#F0A848" text-anchor="middle" textLength="7.24" lengthAdjust="spacingAndGlyphs" >10</text>
<text x="208.90" y="219.39" font-size="6.4" fill="#F0A848" text-anchor="middle" textLength="3.62" lengthAdjust="spacingAndGlyphs" >5</text>
<text x="222.00" y="219.39" font-size="6.4" fill="#F0A848" text-anchor="middle" textLength="3.62" lengthAdjust="spacingAndGlyphs" >3</text>
<text x="235.10" y="219.39" font-size="6.4" fill="#F0A848" text-anchor="middle" textLength="3.62" lengthAdjust="spacingAndGlyphs" >3</text>
<line x1="69.40" y1="189.85" x2="69.40" y2="220.90" stroke="#1a1a1a" stroke-width="1.0" />
<line x1="68.90" y1="220.40" x2="249.60" y2="220.40" stroke="#1a1a1a" stroke-width="1.0" />
<line x1="77.90" y1="220.40" x2="77.90" y2="223.40" stroke="#1a1a1a" stroke-width="0.9" />
<text x="77.90" y="232.48" font-size="6.1" fill="#262626" text-anchor="middle" stroke="#262626" stroke-width="0.12" >0</text>
<line x1="91.00" y1="220.40" x2="91.00" y2="223.40" stroke="#1a1a1a" stroke-width="0.9" />
<text x="91.00" y="232.48" font-size="6.1" fill="#262626" text-anchor="middle" stroke="#262626" stroke-width="0.12" >12</text>
<line x1="104.10" y1="220.40" x2="104.10" y2="223.40" stroke="#1a1a1a" stroke-width="0.9" />
<text x="104.10" y="232.48" font-size="6.1" fill="#262626" text-anchor="middle" stroke="#262626" stroke-width="0.12" >24</text>
<line x1="117.20" y1="220.40" x2="117.20" y2="223.40" stroke="#1a1a1a" stroke-width="0.9" />
<text x="117.20" y="232.48" font-size="6.1" fill="#262626" text-anchor="middle" stroke="#262626" stroke-width="0.12" >36</text>
<line x1="130.30" y1="220.40" x2="130.30" y2="223.40" stroke="#1a1a1a" stroke-width="0.9" />
<text x="130.30" y="232.48" font-size="6.1" fill="#262626" text-anchor="middle" stroke="#262626" stroke-width="0.12" >48</text>
<line x1="143.40" y1="220.40" x2="143.40" y2="223.40" stroke="#1a1a1a" stroke-width="0.9" />
<text x="143.40" y="232.48" font-size="6.1" fill="#262626" text-anchor="middle" stroke="#262626" stroke-width="0.12" >60</text>
<line x1="156.50" y1="220.40" x2="156.50" y2="223.40" stroke="#1a1a1a" stroke-width="0.9" />
<text x="156.50" y="232.48" font-size="6.1" fill="#262626" text-anchor="middle" stroke="#262626" stroke-width="0.12" >72</text>
<line x1="169.60" y1="220.40" x2="169.60" y2="223.40" stroke="#1a1a1a" stroke-width="0.9" />
<text x="169.60" y="232.48" font-size="6.1" fill="#262626" text-anchor="middle" stroke="#262626" stroke-width="0.12" >84</text>
<line x1="182.70" y1="220.40" x2="182.70" y2="223.40" stroke="#1a1a1a" stroke-width="0.9" />
<text x="182.70" y="232.48" font-size="6.1" fill="#262626" text-anchor="middle" stroke="#262626" stroke-width="0.12" >96</text>
<line x1="195.80" y1="220.40" x2="195.80" y2="223.40" stroke="#1a1a1a" stroke-width="0.9" />
<text x="195.80" y="232.48" font-size="6.1" fill="#262626" text-anchor="middle" stroke="#262626" stroke-width="0.12" >108</text>
<line x1="208.90" y1="220.40" x2="208.90" y2="223.40" stroke="#1a1a1a" stroke-width="0.9" />
<text x="208.90" y="232.48" font-size="6.1" fill="#262626" text-anchor="middle" stroke="#262626" stroke-width="0.12" >120</text>
<line x1="222.00" y1="220.40" x2="222.00" y2="223.40" stroke="#1a1a1a" stroke-width="0.9" />
<text x="222.00" y="232.48" font-size="6.1" fill="#262626" text-anchor="middle" stroke="#262626" stroke-width="0.12" >132</text>
<line x1="235.10" y1="220.40" x2="235.10" y2="223.40" stroke="#1a1a1a" stroke-width="0.9" />
<text x="235.10" y="232.48" font-size="6.1" fill="#262626" text-anchor="middle" stroke="#262626" stroke-width="0.12" >144</text>
<text x="159.80" y="243.22" font-size="7.6" fill="#1a1a1a" text-anchor="middle" font-weight="bold" textLength="39.5" lengthAdjust="spacingAndGlyphs" >Time in months</text>
<text font-size="8.8" fill="#222" text-anchor="middle" font-weight="normal" stroke="#222" stroke-width="0.08" textLength="14.6" lengthAdjust="spacingAndGlyphs" transform="translate(16.85,206.00) rotate(-90)" x="0" y="0">Strata</text>
<text x="328.10" y="186.76" font-size="6.6" fill="#1a1a1a" text-anchor="start" textLength="37.5" lengthAdjust="spacingAndGlyphs" stroke="#1a1a1a" stroke-width="0.1" >Number at risk</text>
<text x="322.30" y="196.82" font-size="6.2" fill="#4DAF4A" text-anchor="end" textLength="42.5" lengthAdjust="spacingAndGlyphs" >Primary refractory</text>
<line x1="325.10" y1="194.60" x2="327.50" y2="194.60" stroke="#1a1a1a" stroke-width="0.9" />
<text x="336.75" y="196.89" font-size="6.4" fill="#4DAF4A" text-anchor="middle" textLength="7.24" lengthAdjust="spacingAndGlyphs" >73</text>
<text x="350.61" y="196.89" font-size="6.4" fill="#4DAF4A" text-anchor="middle" textLength="7.24" lengthAdjust="spacingAndGlyphs" >64</text>
<text x="364.47" y="196.89" font-size="6.4" fill="#4DAF4A" text-anchor="middle" textLength="7.24" lengthAdjust="spacingAndGlyphs" >53</text>
<text x="378.34" y="196.89" font-size="6.4" fill="#4DAF4A" text-anchor="middle" textLength="7.24" lengthAdjust="spacingAndGlyphs" >44</text>
<text x="392.20" y="196.89" font-size="6.4" fill="#4DAF4A" text-anchor="middle" textLength="7.24" lengthAdjust="spacingAndGlyphs" >30</text>
<text x="406.06" y="196.89" font-size="6.4" fill="#4DAF4A" text-anchor="middle" textLength="7.24" lengthAdjust="spacingAndGlyphs" >19</text>
<text x="419.92" y="196.89" font-size="6.4" fill="#4DAF4A" text-anchor="middle" textLength="7.24" lengthAdjust="spacingAndGlyphs" >14</text>
<text x="433.79" y="196.89" font-size="6.4" fill="#4DAF4A" text-anchor="middle" textLength="3.62" lengthAdjust="spacingAndGlyphs" >4</text>
<text x="447.65" y="196.89" font-size="6.4" fill="#4DAF4A" text-anchor="middle" textLength="3.62" lengthAdjust="spacingAndGlyphs" >1</text>
<text x="461.51" y="196.89" font-size="6.4" fill="#4DAF4A" text-anchor="middle" textLength="3.62" lengthAdjust="spacingAndGlyphs" >1</text>
<text x="475.37" y="196.89" font-size="6.4" fill="#4DAF4A" text-anchor="middle" textLength="3.62" lengthAdjust="spacingAndGlyphs" >0</text>
<text x="489.24" y="196.89" font-size="6.4" fill="#4DAF4A" text-anchor="middle" textLength="3.62" lengthAdjust="spacingAndGlyphs" >0</text>
<text x="503.10" y="196.89" font-size="6.4" fill="#4DAF4A" text-anchor="middle" textLength="3.62" lengthAdjust="spacingAndGlyphs" >0</text>
<text x="322.30" y="204.52" font-size="6.2" fill="#D2344E" text-anchor="end" textLength="8.2" lengthAdjust="spacingAndGlyphs" >MR</text>
<line x1="325.10" y1="202.30" x2="327.50" y2="202.30" stroke="#1a1a1a" stroke-width="0.9" />
<text x="336.75" y="204.59" font-size="6.4" fill="#D2344E" text-anchor="middle" textLength="7.24" lengthAdjust="spacingAndGlyphs" >37</text>
<text x="350.61" y="204.59" font-size="6.4" fill="#D2344E" text-anchor="middle" textLength="7.24" lengthAdjust="spacingAndGlyphs" >37</text>
<text x="364.47" y="204.59" font-size="6.4" fill="#D2344E" text-anchor="middle" textLength="7.24" lengthAdjust="spacingAndGlyphs" >35</text>
<text x="378.34" y="204.59" font-size="6.4" fill="#D2344E" text-anchor="middle" textLength="7.24" lengthAdjust="spacingAndGlyphs" >32</text>
<text x="392.20" y="204.59" font-size="6.4" fill="#D2344E" text-anchor="middle" textLength="7.24" lengthAdjust="spacingAndGlyphs" >28</text>
<text x="406.06" y="204.59" font-size="6.4" fill="#D2344E" text-anchor="middle" textLength="7.24" lengthAdjust="spacingAndGlyphs" >15</text>
<text x="419.92" y="204.59" font-size="6.4" fill="#D2344E" text-anchor="middle" textLength="3.62" lengthAdjust="spacingAndGlyphs" >8</text>
<text x="433.79" y="204.59" font-size="6.4" fill="#D2344E" text-anchor="middle" textLength="3.62" lengthAdjust="spacingAndGlyphs" >6</text>
<text x="447.65" y="204.59" font-size="6.4" fill="#D2344E" text-anchor="middle" textLength="3.62" lengthAdjust="spacingAndGlyphs" >3</text>
<text x="461.51" y="204.59" font-size="6.4" fill="#D2344E" text-anchor="middle" textLength="3.62" lengthAdjust="spacingAndGlyphs" >1</text>
<text x="475.37" y="204.59" font-size="6.4" fill="#D2344E" text-anchor="middle" textLength="3.62" lengthAdjust="spacingAndGlyphs" >1</text>
<text x="489.24" y="204.59" font-size="6.4" fill="#D2344E" text-anchor="middle" textLength="3.62" lengthAdjust="spacingAndGlyphs" >1</text>
<text x="503.10" y="204.59" font-size="6.4" fill="#D2344E" text-anchor="middle" textLength="3.62" lengthAdjust="spacingAndGlyphs" >0</text>
<text x="322.30" y="212.22" font-size="6.2" fill="#3F66A8" text-anchor="end" textLength="6.8" lengthAdjust="spacingAndGlyphs" >PR</text>
<line x1="325.10" y1="210.00" x2="327.50" y2="210.00" stroke="#1a1a1a" stroke-width="0.9" />
<text x="336.75" y="212.29" font-size="6.4" fill="#3F66A8" text-anchor="middle" textLength="10.86" lengthAdjust="spacingAndGlyphs" >304</text>
<text x="350.61" y="212.29" font-size="6.4" fill="#3F66A8" text-anchor="middle" textLength="10.86" lengthAdjust="spacingAndGlyphs" >302</text>
<text x="364.47" y="212.29" font-size="6.4" fill="#3F66A8" text-anchor="middle" textLength="10.86" lengthAdjust="spacingAndGlyphs" >281</text>
<text x="378.34" y="212.29" font-size="6.4" fill="#3F66A8" text-anchor="middle" textLength="10.86" lengthAdjust="spacingAndGlyphs" >260</text>
<text x="392.20" y="212.29" font-size="6.4" fill="#3F66A8" text-anchor="middle" textLength="10.86" lengthAdjust="spacingAndGlyphs" >229</text>
<text x="406.06" y="212.29" font-size="6.4" fill="#3F66A8" text-anchor="middle" textLength="10.86" lengthAdjust="spacingAndGlyphs" >170</text>
<text x="419.92" y="212.29" font-size="6.4" fill="#3F66A8" text-anchor="middle" textLength="7.24" lengthAdjust="spacingAndGlyphs" >96</text>
<text x="433.79" y="212.29" font-size="6.4" fill="#3F66A8" text-anchor="middle" textLength="7.24" lengthAdjust="spacingAndGlyphs" >55</text>
<text x="447.65" y="212.29" font-size="6.4" fill="#3F66A8" text-anchor="middle" textLength="7.24" lengthAdjust="spacingAndGlyphs" >42</text>
<text x="461.51" y="212.29" font-size="6.4" fill="#3F66A8" text-anchor="middle" textLength="7.24" lengthAdjust="spacingAndGlyphs" >26</text>
<text x="475.37" y="212.29" font-size="6.4" fill="#3F66A8" text-anchor="middle" textLength="7.24" lengthAdjust="spacingAndGlyphs" >14</text>
<text x="489.24" y="212.29" font-size="6.4" fill="#3F66A8" text-anchor="middle" textLength="3.62" lengthAdjust="spacingAndGlyphs" >6</text>
<text x="503.10" y="212.29" font-size="6.4" fill="#3F66A8" text-anchor="middle" textLength="3.62" lengthAdjust="spacingAndGlyphs" >4</text>
<text x="322.30" y="219.82" font-size="6.2" fill="#F0A848" text-anchor="end" textLength="25.7" lengthAdjust="spacingAndGlyphs" >VGPR/CR</text>
<line x1="325.10" y1="217.60" x2="327.50" y2="217.60" stroke="#1a1a1a" stroke-width="0.9" />
<text x="336.75" y="219.89" font-size="6.4" fill="#F0A848" text-anchor="middle" textLength="10.86" lengthAdjust="spacingAndGlyphs" >672</text>
<text x="350.61" y="219.89" font-size="6.4" fill="#F0A848" text-anchor="middle" textLength="10.86" lengthAdjust="spacingAndGlyphs" >664</text>
<text x="364.47" y="219.89" font-size="6.4" fill="#F0A848" text-anchor="middle" textLength="10.86" lengthAdjust="spacingAndGlyphs" >623</text>
<text x="378.34" y="219.89" font-size="6.4" fill="#F0A848" text-anchor="middle" textLength="10.86" lengthAdjust="spacingAndGlyphs" >591</text>
<text x="392.20" y="219.89" font-size="6.4" fill="#F0A848" text-anchor="middle" textLength="10.86" lengthAdjust="spacingAndGlyphs" >482</text>
<text x="406.06" y="219.89" font-size="6.4" fill="#F0A848" text-anchor="middle" textLength="10.86" lengthAdjust="spacingAndGlyphs" >326</text>
<text x="419.92" y="219.89" font-size="6.4" fill="#F0A848" text-anchor="middle" textLength="10.86" lengthAdjust="spacingAndGlyphs" >199</text>
<text x="433.79" y="219.89" font-size="6.4" fill="#F0A848" text-anchor="middle" textLength="10.86" lengthAdjust="spacingAndGlyphs" >117</text>
<text x="447.65" y="219.89" font-size="6.4" fill="#F0A848" text-anchor="middle" textLength="7.24" lengthAdjust="spacingAndGlyphs" >78</text>
<text x="461.51" y="219.89" font-size="6.4" fill="#F0A848" text-anchor="middle" textLength="7.24" lengthAdjust="spacingAndGlyphs" >47</text>
<text x="475.37" y="219.89" font-size="6.4" fill="#F0A848" text-anchor="middle" textLength="7.24" lengthAdjust="spacingAndGlyphs" >25</text>
<text x="489.24" y="219.89" font-size="6.4" fill="#F0A848" text-anchor="middle" textLength="7.24" lengthAdjust="spacingAndGlyphs" >13</text>
<text x="503.10" y="219.89" font-size="6.4" fill="#F0A848" text-anchor="middle" textLength="3.62" lengthAdjust="spacingAndGlyphs" >7</text>
<line x1="327.50" y1="191.10" x2="327.50" y2="221.70" stroke="#1a1a1a" stroke-width="1.0" />
<line x1="327.00" y1="221.20" x2="510.50" y2="221.20" stroke="#1a1a1a" stroke-width="1.0" />
<line x1="336.75" y1="221.20" x2="336.75" y2="224.20" stroke="#1a1a1a" stroke-width="0.9" />
<text x="336.75" y="232.98" font-size="6.1" fill="#262626" text-anchor="middle" stroke="#262626" stroke-width="0.12" >0</text>
<line x1="350.61" y1="221.20" x2="350.61" y2="224.20" stroke="#1a1a1a" stroke-width="0.9" />
<text x="350.61" y="232.98" font-size="6.1" fill="#262626" text-anchor="middle" stroke="#262626" stroke-width="0.12" >12</text>
<line x1="364.47" y1="221.20" x2="364.47" y2="224.20" stroke="#1a1a1a" stroke-width="0.9" />
<text x="364.47" y="232.98" font-size="6.1" fill="#262626" text-anchor="middle" stroke="#262626" stroke-width="0.12" >24</text>
<line x1="378.34" y1="221.20" x2="378.34" y2="224.20" stroke="#1a1a1a" stroke-width="0.9" />
<text x="378.34" y="232.98" font-size="6.1" fill="#262626" text-anchor="middle" stroke="#262626" stroke-width="0.12" >36</text>
<line x1="392.20" y1="221.20" x2="392.20" y2="224.20" stroke="#1a1a1a" stroke-width="0.9" />
<text x="392.20" y="232.98" font-size="6.1" fill="#262626" text-anchor="middle" stroke="#262626" stroke-width="0.12" >48</text>
<line x1="406.06" y1="221.20" x2="406.06" y2="224.20" stroke="#1a1a1a" stroke-width="0.9" />
<text x="406.06" y="232.98" font-size="6.1" fill="#262626" text-anchor="middle" stroke="#262626" stroke-width="0.12" >60</text>
<line x1="419.92" y1="221.20" x2="419.92" y2="224.20" stroke="#1a1a1a" stroke-width="0.9" />
<text x="419.92" y="232.98" font-size="6.1" fill="#262626" text-anchor="middle" stroke="#262626" stroke-width="0.12" >72</text>
<line x1="433.79" y1="221.20" x2="433.79" y2="224.20" stroke="#1a1a1a" stroke-width="0.9" />
<text x="433.79" y="232.98" font-size="6.1" fill="#262626" text-anchor="middle" stroke="#262626" stroke-width="0.12" >84</text>
<line x1="447.65" y1="221.20" x2="447.65" y2="224.20" stroke="#1a1a1a" stroke-width="0.9" />
<text x="447.65" y="232.98" font-size="6.1" fill="#262626" text-anchor="middle" stroke="#262626" stroke-width="0.12" >96</text>
<line x1="461.51" y1="221.20" x2="461.51" y2="224.20" stroke="#1a1a1a" stroke-width="0.9" />
<text x="461.51" y="232.98" font-size="6.1" fill="#262626" text-anchor="middle" stroke="#262626" stroke-width="0.12" >108</text>
<line x1="475.37" y1="221.20" x2="475.37" y2="224.20" stroke="#1a1a1a" stroke-width="0.9" />
<text x="475.37" y="232.98" font-size="6.1" fill="#262626" text-anchor="middle" stroke="#262626" stroke-width="0.12" >120</text>
<line x1="489.24" y1="221.20" x2="489.24" y2="224.20" stroke="#1a1a1a" stroke-width="0.9" />
<text x="489.24" y="232.98" font-size="6.1" fill="#262626" text-anchor="middle" stroke="#262626" stroke-width="0.12" >132</text>
<line x1="503.10" y1="221.20" x2="503.10" y2="224.20" stroke="#1a1a1a" stroke-width="0.9" />
<text x="503.10" y="232.98" font-size="6.1" fill="#262626" text-anchor="middle" stroke="#262626" stroke-width="0.12" >144</text>
<text x="419.20" y="243.42" font-size="7.6" fill="#1a1a1a" text-anchor="middle" font-weight="bold" textLength="38.5" lengthAdjust="spacingAndGlyphs" >Time in months</text>
<text font-size="8.8" fill="#222" text-anchor="middle" font-weight="normal" stroke="#222" stroke-width="0.08" textLength="14.6" lengthAdjust="spacingAndGlyphs" transform="translate(274.40,206.90) rotate(-90)" x="0" y="0">Strata</text>
<text x="81.25" y="256.51" font-size="6.3" fill="#222" text-anchor="start" textLength="15.0" lengthAdjust="spacingAndGlyphs" >Strata</text>
<rect x="102.00" y="251.65" width="5.3" height="5.3" fill="#4DAF4A" fill-opacity="0.55"/>
<line x1="102.30" y1="254.25" x2="107.10" y2="254.25" stroke="#4DAF4A" stroke-width="0.8" />
<text x="110.60" y="256.51" font-size="6.3" fill="#222" text-anchor="start" textLength="42.5" lengthAdjust="spacingAndGlyphs" >Primary refractory</text>
<rect x="159.10" y="251.65" width="5.3" height="5.3" fill="#C81E1E" fill-opacity="0.55"/>
<line x1="159.40" y1="254.25" x2="164.20" y2="254.25" stroke="#C81E1E" stroke-width="0.8" />
<text x="167.10" y="256.51" font-size="6.3" fill="#222" text-anchor="start" textLength="8.2" lengthAdjust="spacingAndGlyphs" >MR</text>
<rect x="181.60" y="251.65" width="5.3" height="5.3" fill="#2D4BAA" fill-opacity="0.55"/>
<line x1="181.90" y1="254.25" x2="186.70" y2="254.25" stroke="#2D4BAA" stroke-width="0.8" />
<text x="190.30" y="256.51" font-size="6.3" fill="#222" text-anchor="start" textLength="6.9" lengthAdjust="spacingAndGlyphs" >PR</text>
<rect x="204.80" y="251.65" width="5.3" height="5.3" fill="#F39C12" fill-opacity="0.55"/>
<line x1="205.10" y1="254.25" x2="209.90" y2="254.25" stroke="#F39C12" stroke-width="0.8" />
<text x="212.20" y="256.51" font-size="6.3" fill="#222" text-anchor="start" textLength="26.3" lengthAdjust="spacingAndGlyphs" >VGPR/CR</text>
<text x="340.50" y="256.51" font-size="6.3" fill="#222" text-anchor="start" textLength="15.0" lengthAdjust="spacingAndGlyphs" >Strata</text>
<rect x="361.25" y="251.65" width="5.3" height="5.3" fill="#4DAF4A" fill-opacity="0.55"/>
<line x1="361.55" y1="254.25" x2="366.35" y2="254.25" stroke="#4DAF4A" stroke-width="0.8" />
<text x="369.85" y="256.51" font-size="6.3" fill="#222" text-anchor="start" textLength="42.5" lengthAdjust="spacingAndGlyphs" >Primary refractory</text>
<rect x="418.35" y="251.65" width="5.3" height="5.3" fill="#C81E1E" fill-opacity="0.55"/>
<line x1="418.65" y1="254.25" x2="423.45" y2="254.25" stroke="#C81E1E" stroke-width="0.8" />
<text x="426.35" y="256.51" font-size="6.3" fill="#222" text-anchor="start" textLength="8.2" lengthAdjust="spacingAndGlyphs" >MR</text>
<rect x="440.85" y="251.65" width="5.3" height="5.3" fill="#2D4BAA" fill-opacity="0.55"/>
<line x1="441.15" y1="254.25" x2="445.95" y2="254.25" stroke="#2D4BAA" stroke-width="0.8" />
<text x="449.55" y="256.51" font-size="6.3" fill="#222" text-anchor="start" textLength="6.9" lengthAdjust="spacingAndGlyphs" >PR</text>
<rect x="464.05" y="251.65" width="5.3" height="5.3" fill="#F39C12" fill-opacity="0.55"/>
<line x1="464.35" y1="254.25" x2="469.15" y2="254.25" stroke="#F39C12" stroke-width="0.8" />
<text x="471.45" y="256.51" font-size="6.3" fill="#222" text-anchor="start" textLength="26.3" lengthAdjust="spacingAndGlyphs" >VGPR/CR</text>
<rect x="0.5" y="0.5" width="519" height="267" fill="none" stroke="#646464" stroke-width="1"/>
</svg>
</body></html>
